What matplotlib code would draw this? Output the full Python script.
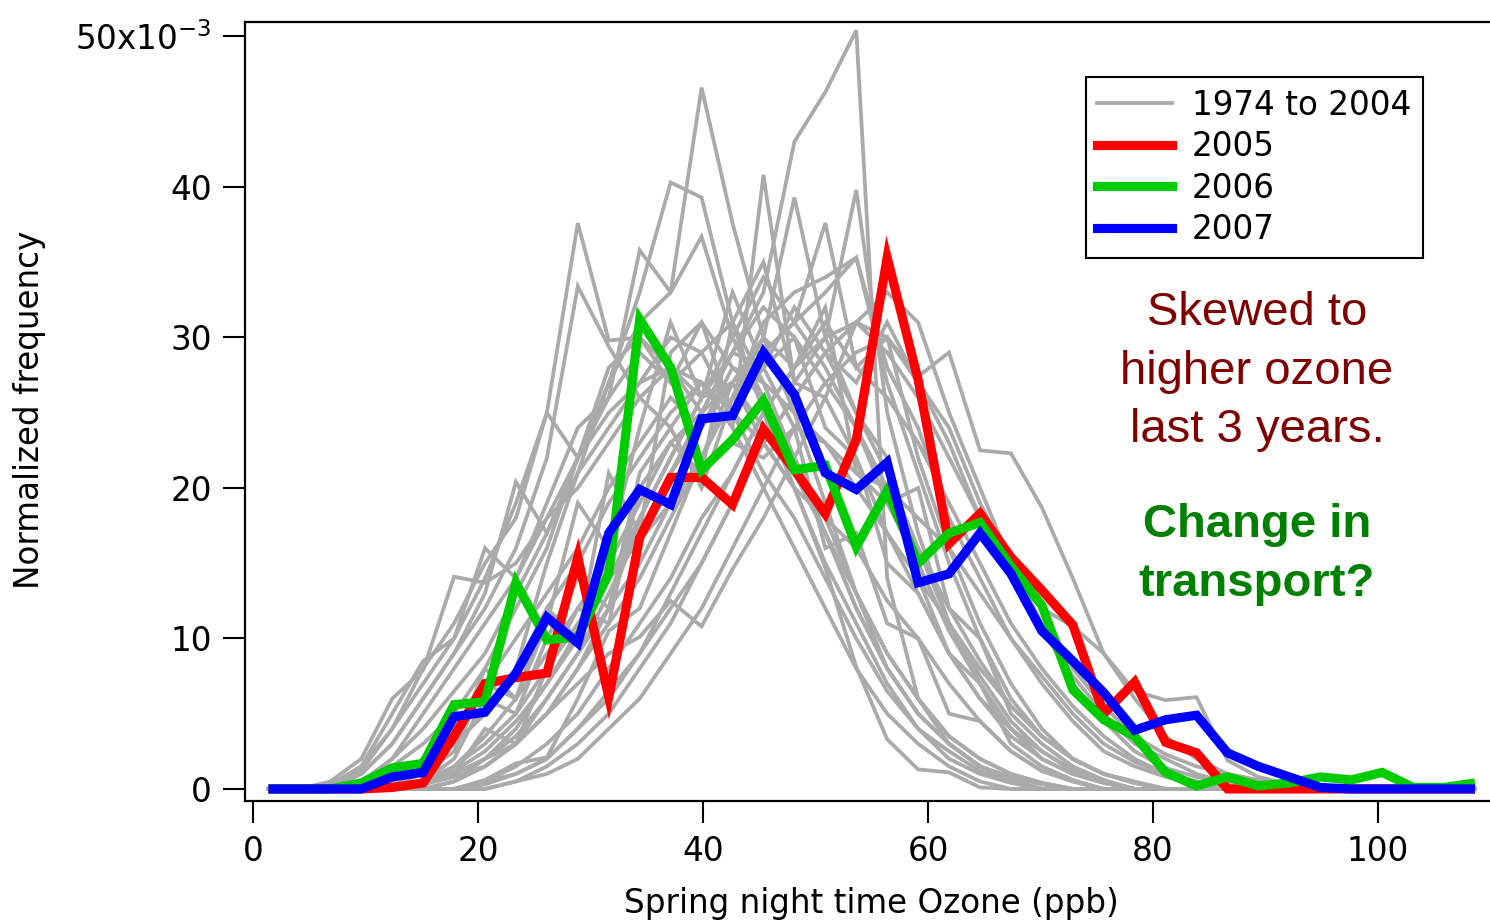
import numpy as np
import matplotlib
matplotlib.use("Agg")
import matplotlib.pyplot as plt
from matplotlib.lines import Line2D

# spring night-time ozone histograms, 2.75 ppb bins, normalized frequency (x1e-3)
BIN_WIDTH = 2.75
N_BINS = 40
ozone_ppb = BIN_WIDTH * (np.arange(N_BINS) + 0.5)

freq_2005 = [0, 0, 0, 0, 0.1, 0.4, 3.5, 7.0, 7.4, 7.7, 15.4, 6.1, 16.7, 20.7, 20.7, 18.9, 23.9, 21.2, 18.3, 23.2,
             35.3, 27.2, 16.3, 18.3, 15.4, 13.2, 10.9, 5.0, 7.1, 3.1, 2.4, 0, 0, 0, 0, 0, 0, 0, 0, 0]
freq_2006 = [0, 0, 0, 0.4, 1.4, 1.7, 5.6, 5.8, 13.7, 9.9, 10.1, 14.3, 31.2, 28.0, 21.2, 23.2, 25.8, 21.2, 21.5, 16.1,
             19.8, 15.0, 17.0, 17.7, 14.8, 12.2, 6.6, 4.6, 3.5, 1.1, 0.2, 0.8, 0.2, 0.4, 0.8, 0.6, 1.1, 0.1, 0.1, 0.4]
freq_2007 = [0, 0, 0, 0, 0.8, 1.1, 4.8, 5.1, 7.7, 11.4, 9.7, 17.0, 19.9, 18.9, 24.6, 24.8, 29.0, 26.2, 21.0, 19.9,
             21.7, 13.7, 14.3, 17.0, 14.3, 10.5, 8.5, 6.4, 3.9, 4.6, 4.9, 2.4, 1.5, 0.8, 0.1, 0, 0, 0, 0, 0]

# 1974 - 2004 (grey bundle)
gray_1974 = [0] * 5 + [0.3, 0.8, 1.5, 3, 5, 8, 12, 18, 22, 26, 29, 33, 43, 46.3, 50.4, 14, 6, 3, 1.5, 0.5] + [0] * 15
gray_1975 = [0] * 3 + [0.5, 1.5, 3, 5, 8, 12, 16, 22, 27, 31, 33, 46.6, 37.6, 30, 25, 19, 13, 8, 5, 3, 1.5, 0.8, 0.3] + [0] * 14
gray_1976 = [0] * 2 + [0.3, 1.5, 4, 7, 10, 14, 19, 25, 37.6, 29.8, 30, 28, 27, 24, 20, 16, 12, 8, 5, 3, 1.5, 0.5] + [0] * 16
gray_1977 = [0] * 3 + [1, 3, 6, 9, 12, 16, 22, 33.4, 29.4, 26, 28, 25, 27, 23, 20, 15, 11, 7, 4, 2, 1, 0.4] + [0] * 15
gray_1978 = [0] * 4 + [0.5, 1.5, 3, 5, 8, 15, 21, 27, 33, 40.3, 39.3, 31, 25, 20, 14.7, 8.1, 3.3, 1.3, 1.1, 0.1] + [0] * 16
gray_1979 = [0] * 5 + [0.5, 1, 2, 3, 5, 7, 9, 10.1, 12.5, 10.8, 14.6, 18, 22, 26, 31, 30, 27, 23, 18, 14, 10.5, 7.5,
                       5, 3, 2, 1, 0.4] + [0] * 8
gray_1980 = [0] * 8 + [0.5, 1, 2, 4, 6, 9, 12, 16, 20, 24, 27, 29, 30, 27.4, 29, 22.5, 22.3, 18.7, 14, 9, 6, 3.5, 2,
                       1, 0.5] + [0] * 7
gray_1981 = [0] * 7 + [0.5, 1, 2, 4, 6, 9, 13, 17, 21, 25, 28, 30, 31, 29, 26, 22, 18, 15, 12, 10.8, 9, 6.5, 5.9,
                       6.1, 1.9, 0.8, 0.3] + [0] * 6
gray_1982 = [0] * 2 + [0.5, 2, 6, 7.9, 14.1, 13.7, 15, 18, 22, 25, 27, 28, 26, 27, 24, 21, 17, 13, 9, 6, 3.5, 2, 1,
                       0.4] + [0] * 14
gray_1983 = [0] * 2 + [0.3, 1, 3, 6, 9, 13, 20.4, 17, 21, 24, 27, 30, 29, 31, 27, 22, 17, 12, 8, 5, 3, 1.5, 0.6] + [0] * 15
gray_1984 = [0] * 3 + [1.5, 5, 8.5, 10, 16, 14, 19, 24, 26, 29, 27, 31, 28, 26, 22, 18, 13, 9, 6, 3.5, 2, 1, 0.4] + [0] * 14
gray_1985 = [0] * 7 + [0.6, 1.7, 2.1, 6, 10.5, 12, 17, 22, 26, 31, 33, 34, 35.3, 28, 24, 18, 14, 10, 7, 4.5, 2.5,
                       1.5, 0.8, 0.3] + [0] * 9
gray_1986 = [0] * 5 + [0.5, 1, 2, 3.5, 6, 9, 12, 15, 19, 22, 27, 30, 39.3, 30, 39.8, 25, 17, 11, 7, 4, 2, 1, 0.4] + [0] * 12
gray_1987 = [0] * 4 + [0.5, 1.5, 3, 5, 8, 12, 15, 19, 22, 25, 27, 24, 40.8, 27, 26, 22, 17, 13, 9, 6, 4, 2, 1,
                       0.5] + [0] * 12
gray_1988 = [0] * 6 + [0.5, 1.5, 3, 5, 8, 11, 14, 18, 22, 26, 29, 31, 37.6, 28, 30, 22, 16, 11, 7, 4, 2, 1, 0.4] + [0] * 11
gray_1989 = [0] * 5 + [0.5, 1.2, 2.5, 4.5, 7, 10, 14, 17, 21, 24, 27, 29, 31, 33, 35.3, 27, 21, 15, 10, 6, 3.5, 2,
                       1, 0.5] + [0] * 11
gray_1990 = [0] * 3 + [0.5, 2, 4, 6.5, 9, 13, 17, 22, 26, 35.8, 33, 36.7, 30, 26, 21, 17, 12, 8, 5, 3, 1.5, 0.6] + [0] * 15
gray_1991 = [0] * 4 + [0.3, 1, 2.5, 7, 6, 11, 19, 16, 24, 31, 26, 33, 28, 30, 24, 22, 15, 13, 9, 6, 3.5, 2, 1,
                       0.4] + [0] * 12
gray_1992 = [0] * 5 + [0.5, 2, 6, 5, 10, 14, 12, 21, 24, 20, 26, 30, 28, 32, 21, 19, 20, 12, 10, 5, 3, 1.5,
                       0.6] + [0] * 12
gray_1993 = [0] * 4 + [0.5, 2, 4, 7, 10, 13, 16, 20, 23, 26, 24, 28, 27, 25, 23, 20, 17, 14, 11, 8, 5.5, 3.5, 2,
                       1, 0.4] + [0] * 11
gray_1994 = [0] * 8 + [0.5, 1.5, 3, 5, 8, 11, 15, 19, 23, 26, 29, 27, 31, 27, 24, 19, 15, 12, 8, 5.5, 3.5, 2.3,
                       1.5, 1, 0.6, 0.3] + [0] * 6
gray_1995 = [0] * 6 + [0.5, 1.5, 3, 6, 9, 13, 17, 21, 25, 29, 32, 30, 27, 24, 20, 16, 12, 8.5, 5.5, 3.5, 2, 1,
                       0.4] + [0] * 11
gray_1996 = [0] * 2 + [0.2, 1.2, 4, 8, 11, 15, 18, 25, 22, 28, 30, 27, 29, 25, 21, 18, 14, 10, 6.5, 4, 2.5, 1.2,
                       0.5] + [0] * 15
gray_1997 = [0] * 5 + [0.5, 1.5, 3, 5, 8, 11, 14, 16.5, 19, 21, 23, 22, 24, 23, 21, 20, 18, 16, 13, 10, 7.5, 5,
                       3, 1.8, 1, 0.5] + [0] * 9
gray_1998 = [0] * 4 + [0.3, 2, 3, 8, 6, 12, 10, 21, 17, 29, 31, 25, 28, 24, 16, 17, 11, 10, 5, 4.5, 2.5, 1.2,
                       0.5] + [0] * 13
gray_1999 = [0] * 7 + [0.3, 1, 2, 4, 6.5, 9, 12, 15, 19, 23, 26, 29, 31, 33, 31, 25, 20, 15, 11, 7, 4.5, 2.5,
                       1.4, 0.8, 0.4] + [0] * 8
gray_2000 = [0] * 5 + [0.4, 1.5, 3.5, 6, 9, 12, 15, 19, 23, 25, 29, 28, 32, 29, 25, 21, 16, 11, 7.5, 4.5, 2.5,
                       1.2, 0.5] + [0] * 12
gray_2001 = [0] * 3 + [0.4, 2, 5, 8, 11, 14, 18, 20, 23, 26, 24, 27, 25, 23, 20, 18, 16, 12.5, 10, 7, 4.5, 2.5,
                       1.2, 0.5] + [0] * 13
gray_2002 = [0] * 6 + [0.5, 2, 4, 7, 10.5, 14, 18, 22, 26, 30, 34, 31, 28, 24, 19, 15, 10.5, 7, 4, 2.5, 1.3,
                       0.5] + [0] * 12
gray_2003 = [0] * 5 + [0.3, 1, 4, 3, 8, 12, 11, 20, 23, 21, 31, 35, 27, 30, 25, 22, 14, 9, 7, 3, 1.5,
                       0.6] + [0] * 13
gray_2004 = [0] * 7 + [0.5, 1.5, 3, 5, 8, 11, 14, 18, 21, 25, 28, 31, 28, 26, 23, 19, 15, 11, 8, 5.5, 3.5, 2, 1,
                       0.5] + [0] * 9

gray_years = [gray_1974, gray_1975, gray_1976, gray_1977, gray_1978, gray_1979, gray_1980, gray_1981,
              gray_1982, gray_1983, gray_1984, gray_1985, gray_1986, gray_1987, gray_1988, gray_1989,
              gray_1990, gray_1991, gray_1992, gray_1993, gray_1994, gray_1995, gray_1996, gray_1997,
              gray_1998, gray_1999, gray_2000, gray_2001, gray_2002, gray_2003, gray_2004]

recent = [("2005", freq_2005, "#ff0000"), ("2006", freq_2006, "#00cc00"), ("2007", freq_2007, "#0000ff")]

for i, s in enumerate(gray_years + [freq_2005, freq_2006, freq_2007]):
    if len(s) != N_BINS:
        raise ValueError(f"series {i} has {len(s)} values")

y_ticks = [0, 10, 20, 30, 40, 50]
y_tick_labels = ["0", "10", "20", "30", "40", r"50x10$^{\mathregular{-3}}$"]
x_ticks = [0, 20, 40, 60, 80, 100]

note_red = ["Skewed to", "higher ozone", "last 3 years."]
note_green = ["Change in", "transport?"]

plt.rcParams["font.family"] = ["DejaVu Sans"]
W, H = 1490, 924
fig = plt.figure(figsize=(W / 100, H / 100), dpi=100)
ax = fig.add_axes([245 / W, 1 - 801 / H, (W - 245) / W, (801 - 22) / H])

for s in gray_years:
    ax.plot(ozone_ppb, s, color="#aaaaaa", lw=2.7, solid_joinstyle="miter")
for label, s, c in recent:
    ax.plot(ozone_ppb, s, color=c, lw=6.6, solid_joinstyle="miter", solid_capstyle="butt")

ax.set_xlim(-0.71, 109.96)
ax.set_ylim(-0.8, 50.96)
ax.set_xticks(x_ticks)
ax.set_yticks(y_ticks)
ax.set_yticklabels(y_tick_labels)
ax.tick_params(axis="both", direction="out", length=15.5, width=1.5, labelsize=23.5, color="black")
ax.tick_params(axis="x", pad=9)
ax.tick_params(axis="y", pad=8.5)
ax.spines["right"].set_visible(False)
for side in ("left", "bottom", "top"):
    ax.spines[side].set_linewidth(1.6)

handles = [Line2D([], [], color="#aaaaaa", lw=2.7)] + [Line2D([], [], color=c, lw=6.6) for _, _, c in recent]
labels = ["1974 to 2004"] + [r[0] for r in recent]
leg = ax.legend(handles, labels, loc="upper right", bbox_to_anchor=(0.946, 0.929), fontsize=23.5,
                frameon=True, fancybox=False, edgecolor="black", framealpha=1, borderaxespad=0,
                handlelength=2.3, handletextpad=0.6, labelspacing=0.26, borderpad=0.35)
leg.get_frame().set_linewidth(1.5)

for i, line in enumerate(note_red):
    fig.text(1257 / W, 1 - (325 + i * 58.5) / H, line, ha="center", va="baseline",
             fontsize=34, color="#800000", family="Liberation Sans")
for i, line in enumerate(note_green):
    fig.text(1257 / W, 1 - (537 + i * 58.5) / H, line, ha="center", va="baseline",
             fontsize=34, color="#008000", family="Liberation Sans", fontweight="bold")

fig.text(871 / W, 1 - 903 / H, "Spring night time Ozone (ppb)", ha="center", va="center", fontsize=23.5)
fig.text(30 / W, 1 - 410 / H, "Normalized frequency", ha="center", va="center", rotation=90, fontsize=23.5)

fig.savefig("out.png", dpi=100)
